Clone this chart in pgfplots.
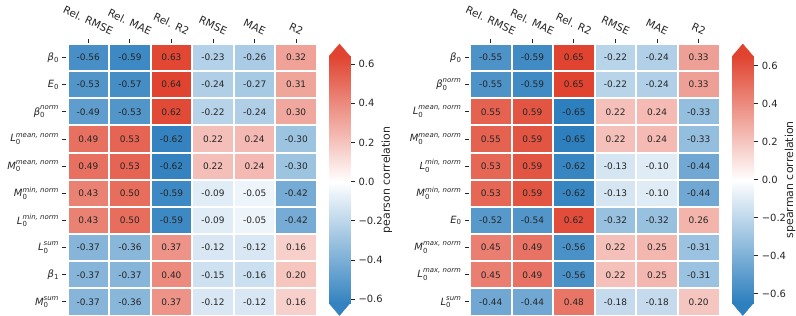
\documentclass[border=0pt]{standalone}
\usepackage{pgfplots}
\pgfplotsset{compat=1.18}
\usepackage{pgfplotstable}
\usepackage{amsmath}
\usepackage{graphicx}
\usepackage{fontspec}
\setmainfont{DejaVu Sans}
\definecolor{tc}{RGB}{38,38,38}

\newcommand\bz{$\textit{β}_{\text{0}}$}
\newcommand\bone{$\textit{β}_{\text{1}}$}
\newcommand\bn{$\textit{β}_{\text{0}}^{\textit{norm}}$}
\newcommand\Ez{$\textit{E}_{\text{0}}$}
\newcommand\Lmean{$\textit{L}_{\text{0}}^{\textit{mean, norm}}$}
\newcommand\Mmean{$\textit{M}_{\text{0}}^{\textit{mean, norm}}$}
\newcommand\Lmin{$\textit{L}_{\text{0}}^{\textit{min, norm}}$}
\newcommand\Mmin{$\textit{M}_{\text{0}}^{\textit{min, norm}}$}
\newcommand\Lmax{$\textit{L}_{\text{0}}^{\textit{max, norm}}$}
\newcommand\Mmax{$\textit{M}_{\text{0}}^{\textit{max, norm}}$}
\newcommand\Lsum{$\textit{L}_{\text{0}}^{\textit{sum}}$}
\newcommand\Msum{$\textit{M}_{\text{0}}^{\textit{sum}}$}
\newcommand\rl[1]{\rotatebox{-25}{\fontsize{10.5}{12}\selectfont #1}}

% pearson (left)
\pgfplotstableread{
x y v
0 0 -0.56
1 0 -0.59
2 0 0.63
3 0 -0.23
4 0 -0.26
5 0 0.32
0 1 -0.53
1 1 -0.57
2 1 0.64
3 1 -0.24
4 1 -0.27
5 1 0.31
0 2 -0.49
1 2 -0.53
2 2 0.62
3 2 -0.22
4 2 -0.24
5 2 0.30
0 3 0.49
1 3 0.53
2 3 -0.62
3 3 0.22
4 3 0.24
5 3 -0.30
0 4 0.49
1 4 0.53
2 4 -0.62
3 4 0.22
4 4 0.24
5 4 -0.30
0 5 0.43
1 5 0.50
2 5 -0.59
3 5 -0.09
4 5 -0.05
5 5 -0.42
0 6 0.43
1 6 0.50
2 6 -0.59
3 6 -0.09
4 6 -0.05
5 6 -0.42
0 7 -0.37
1 7 -0.36
2 7 0.37
3 7 -0.12
4 7 -0.12
5 7 0.16
0 8 -0.37
1 8 -0.37
2 8 0.40
3 8 -0.15
4 8 -0.16
5 8 0.20
0 9 -0.37
1 9 -0.36
2 9 0.37
3 9 -0.12
4 9 -0.12
5 9 0.16
}\ltab

% spearman (right)
\pgfplotstableread{
x y v
0 0 -0.55
1 0 -0.59
2 0 0.65
3 0 -0.22
4 0 -0.24
5 0 0.33
0 1 -0.55
1 1 -0.59
2 1 0.65
3 1 -0.22
4 1 -0.24
5 1 0.33
0 2 0.55
1 2 0.59
2 2 -0.65
3 2 0.22
4 2 0.24
5 2 -0.33
0 3 0.55
1 3 0.59
2 3 -0.65
3 3 0.22
4 3 0.24
5 3 -0.33
0 4 0.53
1 4 0.59
2 4 -0.62
3 4 -0.13
4 4 -0.10
5 4 -0.44
0 5 0.53
1 5 0.59
2 5 -0.62
3 5 -0.13
4 5 -0.10
5 5 -0.44
0 6 -0.52
1 6 -0.54
2 6 0.62
3 6 -0.32
4 6 -0.32
5 6 0.26
0 7 0.45
1 7 0.49
2 7 -0.56
3 7 0.22
4 7 0.25
5 7 -0.31
0 8 0.45
1 8 0.49
2 8 -0.56
3 8 0.22
4 8 0.25
5 8 -0.31
0 9 -0.44
1 9 -0.44
2 9 0.48
3 9 -0.18
4 9 -0.18
5 9 0.20
}\rtab

\pgfplotsset{
  colormap={hm}{rgb255=(45,127,190) rgb255=(255,255,255) rgb255=(224,68,48)},
  hmap/.style={
    scale only axis, width=249.5bp, height=271.5bp, anchor=south west,
    xmin=-0.5, xmax=5.5, ymin=-0.5, ymax=9.5, y dir=reverse, enlargelimits=false,
    axis on top,
    xtick={0,...,5}, ytick={0,...,9},
    xticklabels={\rl{Rel. RMSE},\rl{Rel. MAE},\rl{Rel. R2},\rl{RMSE},\rl{MAE},\rl{R2}},
    xtick pos=right, xticklabel pos=right, ytick pos=left, yticklabel pos=left,
    minor xtick={0.5,1.5,2.5,3.5,4.5}, minor ytick={0.5,1.5,2.5,3.5,4.5,5.5,6.5,7.5,8.5},
    xminorgrids=true, yminorgrids=true,
    minor grid style={white, line width=2bp},
    minor tick length=0pt, major tick length=5bp, tick align=outside,
    major tick style={tc, line width=1bp},
    axis line style={white, line width=2bp},
    tick label style={font=\fontsize{10}{12}\selectfont, text=tc},
    colormap name=hm,
  },
  cbar/.style={
    scale only axis, width=21bp, height=271.5bp, anchor=south west,
    xmin=0, xmax=1, enlargelimits=false,
    axis line style={draw=none}, xtick=\empty,
    ytick={-0.6,-0.4,-0.2,0,0.2,0.4,0.6},
    yticklabels={−0.6,−0.4,−0.2,0.0,0.2,0.4,0.6},
    ytick pos=right, yticklabel pos=right,
    tick align=outside, major tick length=5bp, major tick style={tc, line width=1bp},
    tick label style={font=\fontsize{10}{12}\selectfont, text=tc},
    every axis y label/.style={at={(axis description cs:2.75,0.5)}, rotate=90, anchor=center},
    ylabel style={font=\fontsize{11}{13}\selectfont, text=tc},
    colormap name=hm,
  },
  annot/.style={draw=none, mark=none, point meta=explicit,
    nodes near coords={\pgfmathprintnumber[fixed, fixed zerofill, precision=2, assume math mode=true]{\pgfplotspointmeta}},
    nodes near coords align=center,
    every node near coord/.append style={font=\fontsize{9}{10}\selectfont, text=tc, anchor=center}},
}

\begin{document}
\begin{tikzpicture}
\path[use as bounding box] (0,0) rectangle (796bp,316bp);

% ---- left heatmap
\begin{axis}[hmap, at={(67.5bp,0.5bp)},
  point meta min=-0.64, point meta max=0.64,
  yticklabels={\bz,\Ez,\bn,\Lmean,\Mmean,\Mmin,\Lmin,\Lsum,\bone,\Msum}]
\addplot[matrix plot*, mesh/cols=6, point meta=explicit] table[x=x, y=y, meta=v]{\ltab};
\addplot[annot] table[x=x, y=y, meta=v]{\ltab};
\end{axis}

% ---- left colorbar
\begin{axis}[cbar, at={(329bp,0.5bp)}, ymin=-0.683, ymax=0.703,
  point meta min=-0.64, point meta max=0.64, ylabel={pearson correlation}]
\addplot[surf, shader=interp, mesh/cols=2, point meta=y] coordinates {
(0,-0.62) (1,-0.62)
(0,-0.5) (1,-0.5)
(0,-0.4) (1,-0.4)
(0,-0.3) (1,-0.3)
(0,-0.2) (1,-0.2)
(0,-0.1) (1,-0.1)
(0,0) (1,0)
(0,0.1) (1,0.1)
(0,0.2) (1,0.2)
(0,0.3) (1,0.3)
(0,0.4) (1,0.4)
(0,0.5) (1,0.5)
(0,0.64) (1,0.64)
};
\addplot[patch, shader=flat, point meta=explicit] coordinates {
(0,0.64) [0.64] (1,0.64) [0.64] (0.5,0.703) [0.64]
(0,-0.62) [-0.62] (1,-0.62) [-0.62] (0.5,-0.683) [-0.62]
};
\end{axis}

% ---- right heatmap
\begin{axis}[hmap, at={(470bp,0.5bp)},
  point meta min=-0.65, point meta max=0.65,
  yticklabels={\bz,\bn,\Lmean,\Mmean,\Lmin,\Mmin,\Ez,\Mmax,\Lmax,\Lsum}]
\addplot[matrix plot*, mesh/cols=6, point meta=explicit] table[x=x, y=y, meta=v]{\rtab};
\addplot[annot] table[x=x, y=y, meta=v]{\rtab};
\end{axis}

% ---- right colorbar
\begin{axis}[cbar, at={(732.3bp,0.5bp)}, ymin=-0.715, ymax=0.715,
  point meta min=-0.65, point meta max=0.65, ylabel={spearman correlation}]
\addplot[surf, shader=interp, mesh/cols=2, point meta=y] coordinates {
(0,-0.65) (1,-0.65)
(0,-0.5) (1,-0.5)
(0,-0.4) (1,-0.4)
(0,-0.3) (1,-0.3)
(0,-0.2) (1,-0.2)
(0,-0.1) (1,-0.1)
(0,0) (1,0)
(0,0.1) (1,0.1)
(0,0.2) (1,0.2)
(0,0.3) (1,0.3)
(0,0.4) (1,0.4)
(0,0.5) (1,0.5)
(0,0.65) (1,0.65)
};
\addplot[patch, shader=flat, point meta=explicit] coordinates {
(0,0.65) [0.65] (1,0.65) [0.65] (0.5,0.715) [0.65]
(0,-0.65) [-0.65] (1,-0.65) [-0.65] (0.5,-0.715) [-0.65]
};
\end{axis}
\end{tikzpicture}
\end{document}
